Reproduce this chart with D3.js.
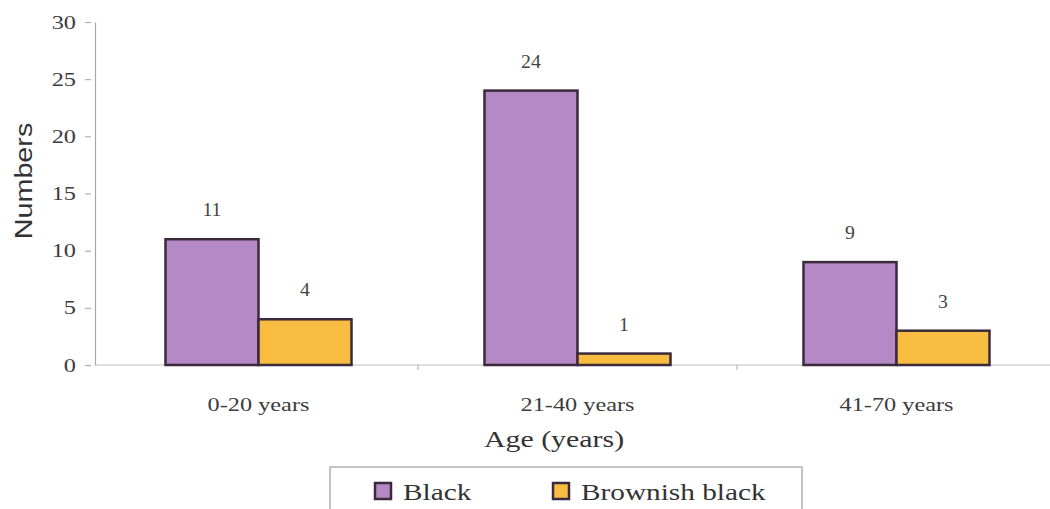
<!DOCTYPE html>
<html>
<head>
<meta charset="utf-8">
<script src="https://cdn.jsdelivr.net/npm/d3@7"></script>
<style>
  html, body { margin: 0; padding: 0; background: #fff; }
  svg { display: block; }
</style>
</head>
<body>
<svg id="chart" width="1050" height="509"></svg>
<script>
// Hair colour counts by age group
const categories = ["0-20 years", "21-40 years", "41-70 years"];
const seriesNames = ["Black", "Brownish black"];
const blackValues = [11, 24, 9];
const brownishBlackValues = [4, 1, 3];
const yTicks = [0, 5, 10, 15, 20, 25, 30];
const seriesColors = ["#b489c5", "#f8bd40"];

const rows = categories.map((c, i) => ({
  category: c,
  values: [blackValues[i], brownishBlackValues[i]]
}));

const svg = d3.select("#chart");
const serif = "'Liberation Serif', 'Times New Roman', serif";
const sans = "'Liberation Sans', Arial, sans-serif";

const axisX = 95, baseY = 365, topY = 22;

const x0 = d3.scaleBand().domain(categories).range([99, 1056]).paddingInner(0).paddingOuter(0);
const x1 = d3.scaleBand().domain(seriesNames).range([0, x0.bandwidth()]).paddingInner(0).paddingOuter(0.715);
const y = d3.scaleLinear().domain([0, 30]).range([baseY, topY]);

// Y axis
const yAxis = svg.append("g")
  .attr("transform", `translate(${axisX},0)`)
  .call(d3.axisLeft(y).tickValues(yTicks).tickSize(10).tickPadding(0).tickSizeOuter(0));
yAxis.select(".domain").attr("stroke", "#a8a8a8").attr("stroke-width", 1.2);
yAxis.selectAll(".tick line").attr("stroke", "#b0b0b0").attr("stroke-width", 1.2)
  .attr("x1", -4);
yAxis.selectAll(".tick text")
  .attr("x", 0)
  .attr("transform", "translate(-19,0) scale(1.28,1)")
  .attr("font-family", serif).attr("font-size", 19)
  .attr("fill", "#3c3c3c");

// X axis
const xAxis = svg.append("g")
  .attr("transform", `translate(0,${baseY})`);
xAxis.append("line")
  .attr("x1", axisX).attr("x2", 1050)
  .attr("y1", 0).attr("y2", 0)
  .attr("stroke", "#bdbdbd").attr("stroke-width", 1.2);
xAxis.selectAll("line.sep")
  .data(categories.slice(1))
  .join("line")
  .attr("class", "sep")
  .attr("x1", d => x0(d)).attr("x2", d => x0(d))
  .attr("y1", 0).attr("y2", 5)
  .attr("stroke", "#b5b5b5").attr("stroke-width", 1.2);
xAxis.selectAll("text.cat")
  .data(categories)
  .join("text")
  .attr("class", "cat")
  .attr("transform", d => `translate(${x0(d) + x0.bandwidth() / 2},46) scale(1.35,1)`)
  .attr("text-anchor", "middle")
  .attr("font-family", serif).attr("font-size", 18)
  .attr("fill", "#3c3c3c")
  .text(d => d);

// Bars
const groups = svg.append("g").selectAll("g")
  .data(rows)
  .join("g")
  .attr("transform", d => `translate(${x0(d.category)},0)`);

groups.selectAll("rect")
  .data(d => d.values.map((v, i) => ({ name: seriesNames[i], value: v, color: seriesColors[i] })))
  .join("rect")
  .attr("x", d => x1(d.name))
  .attr("y", d => y(d.value))
  .attr("width", x1.bandwidth())
  .attr("height", d => baseY - y(d.value))
  .attr("fill", d => d.color)
  .attr("stroke", "#3a2a3c")
  .attr("stroke-width", 2.5);

groups.selectAll("text")
  .data(d => d.values.map((v, i) => ({ name: seriesNames[i], value: v })))
  .join("text")
  .attr("transform", d => `translate(${x1(d.name) + x1.bandwidth() / 2},${y(d.value) - 23}) scale(1.1,1)`)
  .attr("text-anchor", "middle")
  .attr("font-family", serif).attr("font-size", 18)
  .attr("fill", "#444")
  .text(d => d.value);

// Axis titles
svg.append("text")
  .attr("transform", "translate(32,181) rotate(-90) scale(1.25,1)")
  .attr("text-anchor", "middle")
  .attr("font-family", sans).attr("font-size", 23)
  .attr("fill", "#333")
  .text("Numbers");

svg.append("text")
  .attr("transform", "translate(554,447) scale(1.3,1)")
  .attr("text-anchor", "middle")
  .attr("font-family", serif).attr("font-size", 23)
  .attr("fill", "#333")
  .text("Age (years)");

// Legend
const legend = svg.append("g");
legend.append("rect")
  .attr("x", 330).attr("y", 467)
  .attr("width", 472).attr("height", 60)
  .attr("fill", "#fff")
  .attr("stroke", "#a5a5a5").attr("stroke-width", 1.3);

const legendX = [374, 552];
const items = legend.selectAll("g.item")
  .data(seriesNames)
  .join("g")
  .attr("class", "item")
  .attr("transform", (d, i) => `translate(${legendX[i]},482)`);
items.append("rect")
  .attr("x", 1).attr("y", 1)
  .attr("width", 16).attr("height", 16)
  .attr("fill", (d, i) => seriesColors[i])
  .attr("stroke", "#3a2a3c").attr("stroke-width", 2.5);
items.append("text")
  .attr("transform", "translate(29,18) scale(1.22,1)")
  .attr("font-family", serif).attr("font-size", 24)
  .attr("fill", "#333")
  .text(d => d);
</script>
</body>
</html>
